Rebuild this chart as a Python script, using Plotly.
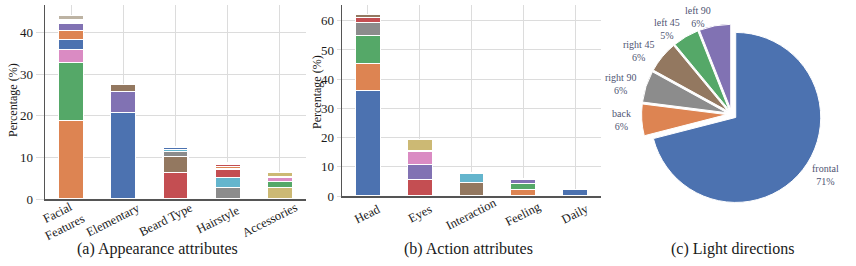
import math
import plotly.graph_objects as go

# ---------------- data ----------------
appearance_categories = ["Facial Features", "Elementary", "Beard Type", "Hairstyle", "Accessories"]
appearance_tick_labels = ["Facial<br>Features", "Elementary", "Beard Type", "Hairstyle", "Accessories"]
facial_features_values = [18.8, 14.0, 3.1, 2.4, 2.2, 1.8, 0.4, 0.3, 1.0]
elementary_values = [20.7, 5.2, 1.6]
beard_type_values = [6.3, 4.0, 1.1, 0.5, 0.6]
hairstyle_values = [2.8, 2.4, 2.0, 0.6, 0.6, 0.4]
accessories_values = [2.8, 1.5, 0.9, 0.3, 0.8]

action_categories = ["Head", "Eyes", "Interaction", "Feeling", "Daily"]
head_values = [36.1, 9.4, 9.5, 4.5, 1.6, 1.0]
eyes_values = [5.7, 5.2, 4.5, 4.0]
interaction_values = [4.6, 3.3]
feeling_values = [2.3, 1.9, 1.6]
daily_values = [2.1]

light_labels = ["frontal", "back", "right 90", "right 45", "left 45", "left 90"]
light_values = [71, 6, 6, 6, 5, 6]

y_ticks_appearance = [0, 10, 20, 30, 40]
y_ticks_action = [0, 10, 20, 30, 40, 50, 60]

# ---------------- styles ----------------
BLUE, ORANGE, GREEN, RED = "#4C72B0", "#DD8452", "#55A868", "#C44E52"
PURPLE, BROWN, PINK, GRAY = "#8172B3", "#937860", "#DA8BC3", "#8C8C8C"
TAN, CYAN = "#CCB974", "#64B5CD"

appearance_colors = {
    "Facial Features": [ORANGE, GREEN, PINK, BLUE, ORANGE, PURPLE, GREEN, CYAN, "#BDB3A3"],
    "Elementary": [BLUE, PURPLE, BROWN],
    "Beard Type": [RED, BROWN, GRAY, CYAN, BLUE],
    "Hairstyle": [GRAY, CYAN, RED, ORANGE, RED, PINK],
    "Accessories": [TAN, GREEN, PINK, PINK, TAN],
}
appearance_values = {
    "Facial Features": facial_features_values,
    "Elementary": elementary_values,
    "Beard Type": beard_type_values,
    "Hairstyle": hairstyle_values,
    "Accessories": accessories_values,
}
action_colors = {
    "Head": [BLUE, ORANGE, GREEN, GRAY, RED, BROWN],
    "Eyes": [RED, PURPLE, PINK, TAN],
    "Interaction": [BROWN, CYAN],
    "Feeling": [ORANGE, GREEN, PURPLE],
    "Daily": [BLUE],
}
action_values = {
    "Head": head_values,
    "Eyes": eyes_values,
    "Interaction": interaction_values,
    "Feeling": feeling_values,
    "Daily": daily_values,
}
pie_colors = [BLUE, ORANGE, GRAY, BROWN, GREEN, PURPLE]

W, H = 856, 266
FONT = "Liberation Serif, Times New Roman, serif"
TXT = "#1a1a1a"
PIE_TXT = "#4f5573"

# pie layout (pixels)
PIE_CX, PIE_CY, PIE_R, PULL = 731.7, 114.3, 85.0, 0.06


def px(x):
    return x / W


def py(y):
    return 1 - y / H


fig = go.Figure()

BAR_W = 0.48
for cat in appearance_categories:
    for v, c in zip(appearance_values[cat], appearance_colors[cat]):
        fig.add_trace(go.Bar(x=[cat], y=[v], width=BAR_W, marker=dict(color=c, line=dict(color="white", width=1.2)),
                             xaxis="x", yaxis="y", showlegend=False, hoverinfo="skip"))
for cat in action_categories:
    for v, c in zip(action_values[cat], action_colors[cat]):
        fig.add_trace(go.Bar(x=[cat], y=[v], width=BAR_W, marker=dict(color=c, line=dict(color="white", width=1.2)),
                             xaxis="x2", yaxis="y2", showlegend=False, hoverinfo="skip"))

half = PIE_R * (1 + PULL)
fig.add_trace(go.Pie(
    labels=light_labels, values=light_values, sort=False, direction="clockwise", rotation=0,
    pull=[PULL] * len(light_values),
    marker=dict(colors=pie_colors, line=dict(color="white", width=1)),
    textinfo="none",
    domain=dict(x=[px(PIE_CX - half), px(PIE_CX + half)], y=[py(PIE_CY + half), py(PIE_CY - half)]),
    showlegend=False, hoverinfo="skip",
))

grid = "#dcdcdc"
axis_common = dict(showgrid=True, gridcolor=grid, gridwidth=1, zeroline=False, showline=True,
                   linecolor="#555555", linewidth=1.5, automargin=False, fixedrange=True)

fig.update_layout(
    width=W, height=H, margin=dict(l=0, r=0, t=0, b=0),
    paper_bgcolor="white", plot_bgcolor="white", barmode="stack",
    font=dict(family=FONT, size=12, color=TXT),
    xaxis=dict(domain=[px(45), px(306)], type="category", categoryorder="array",
               categoryarray=appearance_categories, range=[-0.5, 4.5], showticklabels=False,
               ticks="", anchor="y", **axis_common),
    yaxis=dict(domain=[py(199), py(5)], range=[0, 46.6], tickvals=y_ticks_appearance,
               ticks="outside", ticklen=8, tickcolor=grid, anchor="x",
               tickfont=dict(family=FONT, size=13, color=TXT), **axis_common),
    xaxis2=dict(domain=[px(342), px(601)], type="category", categoryorder="array",
                categoryarray=action_categories, range=[-0.5, 4.5], showticklabels=False,
                ticks="", anchor="y2", **axis_common),
    yaxis2=dict(domain=[py(196), py(5)], range=[0, 65.4], tickvals=y_ticks_action,
                ticks="outside", ticklen=4, tickcolor=grid, anchor="x2",
                tickfont=dict(family=FONT, size=13, color=TXT), **axis_common),
)

ann = []
# rotated category labels
for cat, lab in zip(appearance_categories, appearance_tick_labels):
    ann.append(dict(x=cat, xref="x", y=py(220), yref="paper", text=lab, textangle=-27,
                    showarrow=False, xanchor="center", yanchor="middle", xshift=-10,
                    font=dict(family=FONT, size=12.5, color=TXT)))
for cat in action_categories:
    ann.append(dict(x=cat, xref="x2", y=py(214), yref="paper", text=cat, textangle=-27,
                    showarrow=False, xanchor="center", yanchor="middle",
                    font=dict(family=FONT, size=12.5, color=TXT)))
# axis titles
ann.append(dict(x=px(13), y=py(100), xref="paper", yref="paper", text="Percentage (%)", textangle=-90,
                showarrow=False, xanchor="center", yanchor="middle", font=dict(family=FONT, size=12, color=TXT)))
ann.append(dict(x=px(316.5), y=py(92.5), xref="paper", yref="paper", text="Percentage (%)", textangle=-90,
                showarrow=False, xanchor="center", yanchor="middle", font=dict(family=FONT, size=12, color=TXT)))
# pie labels: placed at 1.1 x radius beyond each (pulled) slice's mid-angle
total = sum(light_values)
cum = 0.0
for lab, v in zip(light_labels, light_values):
    theta = math.radians((cum + v / 2) / total * 360)
    cum += v
    d = PIE_R * 1.1 + PIE_R * PULL
    lx = PIE_CX + d * math.sin(theta)
    ly = PIE_CY - d * math.cos(theta)
    ann.append(dict(x=px(lx), y=py(ly), xref="paper", yref="paper",
                    text=f"{lab}<br>{round(v / total * 100)}%", showarrow=False,
                    xanchor="left" if math.sin(theta) > 0 else "right", yanchor="middle", align="center",
                    font=dict(family=FONT, size=10, color=PIE_TXT)))
# subtitles
for xc, t in [(157, "(a) Appearance attributes"), (469, "(b) Action attributes"), (733, "(c) Light directions")]:
    ann.append(dict(x=px(xc), y=py(249), xref="paper", yref="paper", text=t, showarrow=False,
                    xanchor="center", yanchor="middle", font=dict(family=FONT, size=16, color=TXT)))
fig.update_layout(annotations=ann)

fig.write_html("out.html", config={"displayModeBar": False, "staticPlot": True},
               post_script="document.body.style.margin='0';document.body.style.overflow='hidden';")
